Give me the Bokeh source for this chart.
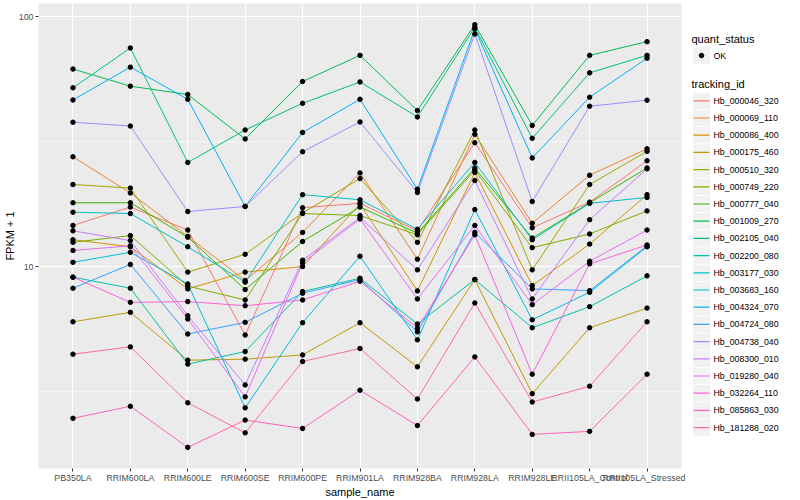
import math
from bokeh.plotting import figure
from bokeh.models import ColumnDataSource, Range1d, FixedTicker, PrintfTickFormatter, FactorRange
from bokeh.layouts import row
from bokeh.embed import file_html
from bokeh.resources import INLINE
from bokeh.core.properties import value

samples = ["PB350LA", "RRIM600LA", "RRIM600LE", "RRIM600SE", "RRIM600PE", "RRIM901LA",
           "RRIM928BA", "RRIM928LA", "RRIM928LE", "RRII105LA_Control", "RRII105LA_Stressed"]

hb_000046_320 = [14.6, 17.3, 14.0, 5.32, 17.2, 17.9, 13.9, 31.3, 14.3, 18.1, 26.5]
hb_000069_110 = [27.5, 19.7, 13.2, 8.79, 13.7, 23.7, 10.7, 33.8, 14.9, 23.2, 29.6]
hb_000086_400 = [12.8, 12.0, 8.14, 9.50, 10.0, 17.8, 7.99, 23.8, 8.39, 12.3, 19.4]
hb_000175_460 = [6.01, 6.56, 4.22, 4.26, 4.43, 5.96, 3.97, 8.87, 3.10, 5.69, 6.82]
hb_000510_320 = [21.3, 20.6, 9.50, 11.2, 16.4, 22.5, 12.5, 35.2, 9.70, 21.3, 28.9]
hb_000749_220 = [12.5, 13.3, 8.35, 7.35, 16.3, 16.0, 13.4, 24.3, 11.9, 13.5, 16.7]
hb_000777_040 = [18.0, 18.0, 13.1, 8.09, 12.6, 17.3, 13.6, 24.8, 13.0, 18.0, 24.8]
hb_001009_270 = [61.7, 52.7, 48.8, 32.4, 55.0, 70.0, 42.1, 92.9, 36.7, 70.0, 79.4]
hb_002105_040 = [51.9, 74.9, 26.1, 35.2, 45.0, 54.8, 39.7, 90.6, 32.6, 59.6, 70.0]
hb_002200_080 = [9.07, 8.19, 4.07, 4.57, 7.94, 8.98, 5.89, 8.87, 5.69, 6.91, 9.18]
hb_003177_030 = [16.5, 16.3, 12.0, 8.66, 19.4, 18.5, 14.1, 26.1, 12.8, 17.9, 18.9]
hb_003683_160 = [10.4, 11.4, 8.52, 2.72, 5.96, 11.0, 5.09, 16.9, 6.12, 7.89, 12.0]
hb_004324_070 = [46.4, 62.8, 46.7, 17.4, 34.4, 46.7, 20.4, 89.2, 27.2, 47.6, 68.2]
hb_004724_080 = [8.19, 10.2, 5.37, 5.98, 7.82, 8.87, 5.48, 13.7, 8.14, 8.01, 12.1]
hb_004738_040 = [37.8, 36.5, 16.6, 17.4, 28.8, 37.9, 19.8, 85.2, 18.2, 43.8, 46.3]
hb_008300_010 = [13.9, 12.7, 6.36, 3.36, 10.6, 15.7, 9.70, 22.1, 7.42, 15.4, 24.6]
hb_019280_040 = [11.6, 12.1, 6.17, 3.01, 10.35, 15.5, 7.42, 14.6, 7.04, 10.5, 14.0]
hb_032264_110 = [9.07, 7.19, 7.24, 6.97, 7.35, 8.74, 5.67, 13.4, 3.71, 10.25, 12.2]
hb_085863_030 = [2.47, 2.76, 1.89, 2.43, 2.25, 3.20, 2.31, 4.35, 2.13, 2.19, 3.71]
hb_181288_020 = [4.46, 4.77, 2.85, 2.16, 4.17, 4.70, 2.95, 7.15, 2.87, 3.32, 6.01]

tracking_ids = ["Hb_000046_320", "Hb_000069_110", "Hb_000086_400", "Hb_000175_460",
                "Hb_000510_320", "Hb_000749_220", "Hb_000777_040", "Hb_001009_270",
                "Hb_002105_040", "Hb_002200_080", "Hb_003177_030", "Hb_003683_160",
                "Hb_004324_070", "Hb_004724_080", "Hb_004738_040", "Hb_008300_010",
                "Hb_019280_040", "Hb_032264_110", "Hb_085863_030", "Hb_181288_020"]
series = [hb_000046_320, hb_000069_110, hb_000086_400, hb_000175_460, hb_000510_320,
          hb_000749_220, hb_000777_040, hb_001009_270, hb_002105_040, hb_002200_080,
          hb_003177_030, hb_003683_160, hb_004324_070, hb_004724_080, hb_004738_040,
          hb_008300_010, hb_019280_040, hb_032264_110, hb_085863_030, hb_181288_020]
colors = ["#F8766D", "#EA8331", "#D89000", "#C09B00", "#A3A500", "#7CAE00", "#39B600",
          "#00BB4E", "#00BF7D", "#00C1A3", "#00BFC4", "#00BAE0", "#00B0F6", "#35A2FF",
          "#9590FF", "#C77CFF", "#E76BF3", "#FA62DB", "#FF62BC", "#FF6C91"]
quant_status = ["OK"]

FONT = "Liberation Sans"
FRAME_H = 465
TOP = 3

allv = [v for s in series for v in s]
llo, lhi = math.log10(min(allv)), math.log10(max(allv))
pad = (lhi - llo) * 0.05
y_lo, y_hi = 10 ** (llo - pad), 10 ** (lhi + pad)

p = figure(frame_width=643, frame_height=FRAME_H,
           x_range=FactorRange(factors=samples, range_padding=0.1, range_padding_units="absolute"),
           y_axis_type="log", y_range=Range1d(y_lo, y_hi),
           output_backend="svg", toolbar_location=None,
           min_border_left=28, min_border_right=4, min_border_top=TOP, min_border_bottom=20)
p.background_fill_color = "#EBEBEB"
p.border_fill_color = "white"
p.outline_line_color = None

src = ColumnDataSource(dict(xs=[samples] * len(series), ys=series, color=colors))
p.multi_line(xs="xs", ys="ys", line_color="color", line_width=1.0, source=src)

px = [s for _ in series for s in samples]
py = [v for s in series for v in s]
p.scatter(px, py, size=4.5, fill_color="black", line_color="black", marker="circle")

p.yaxis.ticker = FixedTicker(ticks=[10, 100], minor_ticks=[10 ** 0.5, 10 ** 1.5])
p.yaxis.formatter = PrintfTickFormatter(format="%d")
p.ygrid.grid_line_color = "white"
p.ygrid.grid_line_width = 1.1
p.ygrid.minor_grid_line_color = "white"
p.ygrid.minor_grid_line_width = 0.55
p.xgrid.grid_line_color = "white"
p.xgrid.grid_line_width = 1.1

for ax in (p.xaxis, p.yaxis):
    ax.axis_line_color = None
    ax.major_tick_line_color = "#333333"
    ax.major_tick_out = 3
    ax.major_tick_in = 0
    ax.minor_tick_line_color = None
    ax.major_label_text_font = FONT
    ax.major_label_text_font_size = "8.8px"
    ax.major_label_text_color = "#4D4D4D"
    ax.axis_label_text_font = FONT
    ax.axis_label_text_font_size = "11px"
    ax.axis_label_text_font_style = "normal"
    ax.axis_label_text_color = "black"
    ax.major_label_standoff = 1
    ax.axis_label_standoff = 0
p.xaxis.axis_label = "sample_name"
p.yaxis.axis_label = "FPKM + 1"

# legend panel: frame aligned with the main frame; 1 unit = 1 px from frame top / left
LW = 100
lg = figure(frame_width=LW, frame_height=FRAME_H, x_range=Range1d(0, LW), y_range=Range1d(FRAME_H, 0),
            output_backend="svg", toolbar_location=None, min_border=0, min_border_top=TOP,
            x_axis_location=None, y_axis_location=None)
lg.grid.visible = False
lg.outline_line_color = None
lg.background_fill_color = "white"
lg.border_fill_color = "white"

lg.text(x=[6, 6], y=[35, 80], text=["quant_status", "tracking_id"],
        text_font=value(FONT), text_font_size=value("11px"), text_baseline="middle",
        text_align="left", text_color="black")

ok_y = [52]
lg.rect(x=[16], y=ok_y, width=17, height=16.5, fill_color="#F2F2F2", line_color=None)
lg.scatter(x=[16], y=ok_y, size=4.5, fill_color="black", line_color="black")
lg.text(x=[28], y=ok_y, text=quant_status, text_font=value(FONT), text_font_size=value("8.8px"),
        text_baseline="middle", text_align="left", text_color="black")

ky = [97.3 + 17.2 * i for i in range(len(tracking_ids))]
ksrc = ColumnDataSource(dict(x=[16] * len(ky), y=ky, x0=[8] * len(ky), x1=[24] * len(ky),
                             color=colors, label=tracking_ids))
lg.rect(x="x", y="y", width=17, height=16.2, fill_color="#F2F2F2", line_color=None, source=ksrc)
lg.segment(x0="x0", y0="y", x1="x1", y1="y", line_color="color", line_width=1.2, source=ksrc)
lg.text(x=28, y="y", text="label", text_font=value(FONT), text_font_size=value("8.8px"),
        text_baseline="middle", text_align="left", text_color="black", source=ksrc)

layout = row(p, lg)
open("out.html", "w").write(file_html(layout, INLINE))
